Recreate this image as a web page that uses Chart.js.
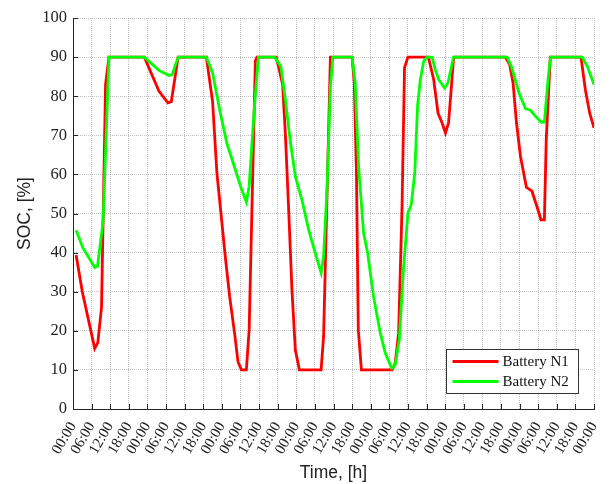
<!DOCTYPE html>
<html>
<head>
<meta charset="utf-8">
<script src="https://cdn.jsdelivr.net/npm/chart.js@4.4.0/dist/chart.umd.min.js"></script>
<style>
html, body { margin:0; padding:0; background:#fff; }
#wrap { width:615px; height:484px; position:relative; }
</style>
</head>
<body>
<div id="wrap"><canvas id="socChart"></canvas></div>
<script>
// x tick labels, one every 6 hours over 7 days
var tickLabels = ['00:00','06:00','12:00','18:00','00:00','06:00','12:00','18:00',
  '00:00','06:00','12:00','18:00','00:00','06:00','12:00','18:00',
  '00:00','06:00','12:00','18:00','00:00','06:00','12:00','18:00',
  '00:00','06:00','12:00','18:00','00:00'];

// Battery N1 (red) - hours / SOC %
var n1Hours = [1, 3, 7, 8, 9.2, 10.5, 11.6, 23, 27.7, 30.6, 31.7, 33.9, 43, 45, 46.4, 49.1, 50.5, 52.1, 53.2, 54.3, 55.9, 56.8, 58.8, 59.3,
  65.5, 66.5, 67.6, 68.5, 69.5, 70.6, 71.7, 73, 80, 80.8, 83, 90, 90.7, 91.4, 92, 93, 102.9, 103.9, 105, 106.1, 106.9, 108,
  114.6, 116.3, 117.7, 119, 120.1, 121.1, 122.7, 123, 139.4, 140.8, 141.9, 143, 144.3, 146.2, 148, 149.6, 150.9, 152, 152.6, 153.9,
  163.8, 165.2, 166.6, 168];
var n1Soc = [39.4, 30, 15.5, 17, 26, 83, 90, 90, 81.3, 78.3, 78.6, 90, 90, 78.7, 60.4, 39, 28.8, 19.4, 12.1, 10, 10, 20.2, 89, 90,
  90, 86.8, 83, 70, 51.8, 30.5, 15.1, 10, 10, 18.5, 90, 90, 83.4, 60.4, 20.2, 10, 10, 11.7, 19.4, 51.8, 87.3, 90,
  90, 84.3, 75.7, 73.2, 70.6, 73.2, 89.4, 90, 90, 88.1, 83.4, 73.2, 64.6, 56.7, 55.7, 51.8, 48.4, 48.4, 68.9, 90,
  90, 81.7, 75.7, 71.9];

// Battery N2 (green) - hours / SOC %
var n2Hours = [1, 3.2, 7, 7.9, 9.7, 11.6, 23, 27.7, 31, 32, 33, 34, 43, 45, 47.5, 49.6, 51.3, 54, 55.9, 56.8, 58.5, 59.8,
  65, 67, 68.5, 70, 71.7, 73.8, 76, 78.1, 80, 80.8, 81.9, 83, 83.8, 90, 91, 92.1, 93.7, 95, 96.9, 99.1, 100.7, 102.3, 102.9,
  103.9, 105.2, 106.6, 108, 109.1, 110.2, 111.1, 112, 113.1, 114.2, 115.8, 116.8, 117.9, 119.8, 120.9, 122.7,
  140, 141.3, 143.8, 145.9, 147.5, 149.1, 150.9, 152, 153.4, 154, 164.2, 165.8, 167.4, 168];
var n2Soc = [45.7, 41.2, 36.2, 36.5, 48, 90, 90, 86.6, 85.3, 85.5, 88, 90, 90, 86, 75.7, 68, 63.8, 57, 52.9, 57, 77.4, 90,
  90, 87.7, 79, 68.9, 59.5, 53.5, 45.8, 39.9, 34.8, 39, 56, 82.5, 90, 90, 83.4, 62, 45, 39.9, 28.8, 19.4, 14.3, 11.3, 10.4,
  11.3, 17.7, 36.4, 50.1, 52.3, 60.4, 77.4, 84.3, 89, 90, 90, 86.8, 84.3, 82.1, 83.4, 90,
  90, 87.7, 80.9, 76.8, 76.4, 74.9, 73.4, 73.4, 86, 90, 90, 87.7, 84.3, 83];

var seriesNames = ['Battery N1', 'Battery N2'];
var seriesColors = ['#ff0000', '#00ff00'];

function toPoints(hours, vals){
  return hours.map(function(h, i){ return {x: h, y: vals[i]}; });
}

var axisColor = '#262626';
var gridColor = 'rgba(0,0,0,0.24)';

// inward tick marks and the boxed legend in the lower right
var axisExtras = {
  id: 'axisExtras',
  afterDraw: function(chart){
    var ctx = chart.ctx, xs = chart.scales.x, ys = chart.scales.y, area = chart.chartArea;
    ctx.save();
    ctx.strokeStyle = axisColor;
    ctx.lineWidth = 1;
    ctx.beginPath();
    xs.ticks.forEach(function(t){
      var px = Math.round(xs.getPixelForValue(t.value)) + 0.5;
      ctx.moveTo(px, area.bottom);
      ctx.lineTo(px, area.bottom - 5);
    });
    ys.ticks.forEach(function(t){
      var py = Math.round(ys.getPixelForValue(t.value)) + 0.5;
      ctx.moveTo(area.left, py);
      ctx.lineTo(area.left + 5, py);
    });
    ctx.stroke();

    var bw = 132, bh = 44;
    var bx = Math.round(area.right - 16 - bw) + 0.5, by = Math.round(area.bottom - 16 - bh) + 0.5;
    ctx.fillStyle = '#fff';
    ctx.fillRect(bx, by, bw, bh);
    ctx.strokeStyle = '#333';
    ctx.strokeRect(bx, by, bw, bh);
    ctx.font = '15px "Liberation Serif", serif';
    ctx.textBaseline = 'middle';
    ctx.textAlign = 'left';
    for (var i = 0; i < seriesNames.length; i++) {
      var ry = by + 12 + i * 20;
      ctx.strokeStyle = seriesColors[i];
      ctx.lineWidth = 3;
      ctx.beginPath();
      ctx.moveTo(bx + 6, ry);
      ctx.lineTo(bx + 52, ry);
      ctx.stroke();
      ctx.fillStyle = '#111';
      ctx.fillText(seriesNames[i], bx + 56, ry + 1);
    }
    ctx.restore();
  }
};

var ctx = document.getElementById('socChart').getContext('2d');
var chart = new Chart(ctx, {
  type: 'line',
  data: {
    datasets: [{
      label: seriesNames[0],
      data: toPoints(n1Hours, n1Soc),
      borderColor: seriesColors[0],
      borderWidth: 2.8,
      pointRadius: 0,
      tension: 0,
      order: 1
    }, {
      label: seriesNames[1],
      data: toPoints(n2Hours, n2Soc),
      borderColor: seriesColors[1],
      borderWidth: 2.8,
      pointRadius: 0,
      tension: 0,
      order: 0
    }]
  },
  options: {
    responsive: true,
    maintainAspectRatio: false,
    animation: false,
    layout: { padding: { top: 18, right: 21, left: 0, bottom: 0 } },
    plugins: {
      legend: { display: false },
      tooltip: { enabled: false }
    },
    scales: {
      x: {
        type: 'linear',
        min: 0,
        max: 168,
        afterFit: function(s){ s.height = 75; s.paddingLeft = 0; s.paddingRight = 0; },
        ticks: {
          stepSize: 6,
          autoSkip: false,
          minRotation: 60,
          maxRotation: 60,
          padding: 10,
          color: '#222',
          font: { family: '"Liberation Serif", serif', size: 15 },
          callback: function(v, i){ return tickLabels[i]; }
        },
        grid: { color: gridColor, drawTicks: false, lineWidth: 1 },
        border: { display: true, color: axisColor, width: 1, dash: [1, 1] },
        title: {
          display: true,
          text: 'Time, [h]',
          color: '#222',
          font: { family: '"Liberation Sans", Arial, sans-serif', size: 17.5 },
          padding: { top: 3, bottom: 0 }
        }
      },
      y: {
        min: 0,
        max: 100,
        afterFit: function(s){ s.width = 73; s.paddingTop = 0; s.paddingBottom = 0; },
        ticks: {
          stepSize: 10,
          padding: 6,
          color: '#222',
          font: { family: '"Liberation Serif", serif', size: 16.5 }
        },
        grid: { color: gridColor, drawTicks: false, lineWidth: 1 },
        border: { display: true, color: axisColor, width: 1, dash: [1, 1] },
        title: {
          display: true,
          text: 'SOC, [%]',
          color: '#222',
          font: { family: '"Liberation Sans", Arial, sans-serif', size: 17.5 },
          padding: { top: 15, bottom: 0 }
        }
      }
    }
  },
  plugins: [axisExtras]
});
</script>
</body>
</html>
